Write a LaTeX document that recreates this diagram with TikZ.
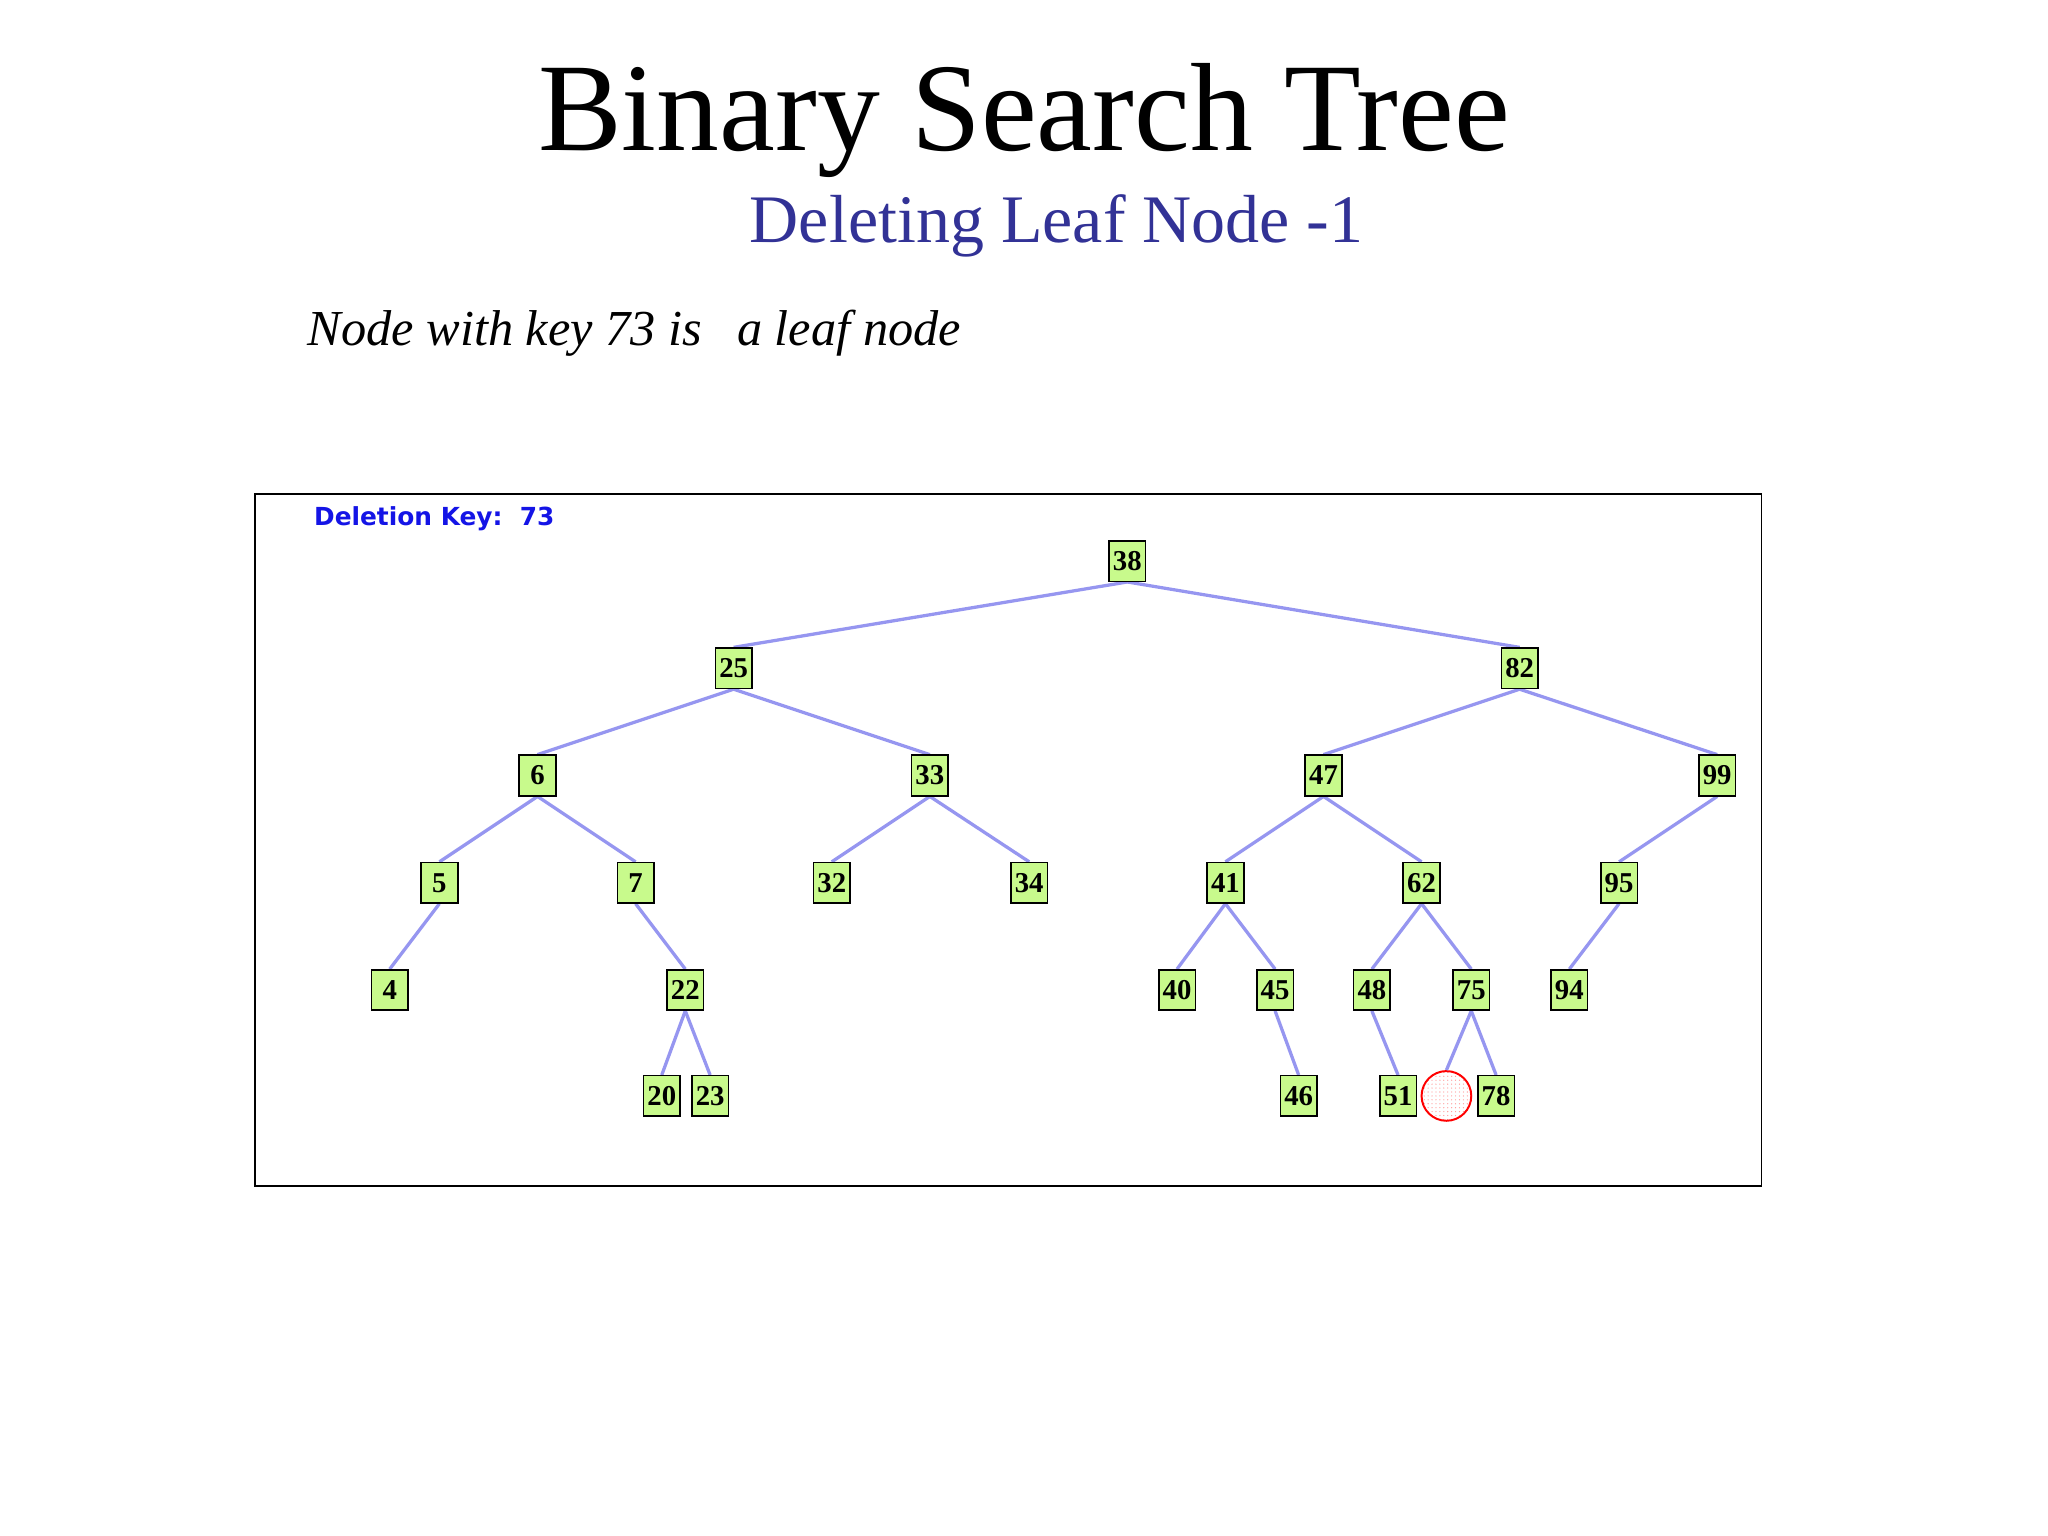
\documentclass[tikz,border=0pt]{standalone}
\usepackage{fontspec}
\usetikzlibrary{patterns}
\setmainfont{Liberation Serif}
\newfontfamily\sansf{DejaVu Sans}
\begin{document}
\begin{tikzpicture}[x=1pt,y=-1pt,
  kbox/.style={draw=black,line width=1.2pt,fill=kfill,minimum width=28pt,minimum height=31pt,inner sep=0pt,font=\fontsize{22}{22}\selectfont\bfseries,
   append after command={[draw=black,line width=2pt]([xshift=1pt,yshift=-1pt]\tikzlastnode.south west)--([xshift=1pt,yshift=-1pt]\tikzlastnode.south east)--([xshift=1pt]\tikzlastnode.north east)}},
  edge/.style={draw={rgb,255:red,150;green,150;blue,240},line width=2.5pt}]
\definecolor{kfill}{RGB}{200,250,140}
\useasboundingbox (0,0) rectangle (1566,1174);
\node (title) at (783,92) {\fontsize{96}{96}\selectfont Binary Search Tree};
\node[text={rgb,255:red,50;green,50;blue,150}] (sub) at (808,173) {\fontsize{52}{52}\selectfont Deleting Leaf Node -1};
\node[anchor=west,inner sep=0pt] (txt) at (235,255) {\fontsize{38.5}{38.5}\selectfont\itshape Node with key 73 is\hspace{0.7em}a leaf node};
\draw[line width=1.3pt] (195,378) rectangle (1347,907);
\node[anchor=west,inner sep=0pt,text={rgb,255:red,20;green,20;blue,230}] (dk) at (240,397) {\sansf\bfseries\fontsize{19}{19}\selectfont Deletion Key:\ \ 73};
\foreach \n/\x/\y in {38/862/429,25/561/511,82/1162/511,6/411/593,33/711/593,47/1012/593,99/1313/593,
 5/336/675,7/486/675,32/636/675,34/787/675,41/937/675,62/1087/675,95/1238/675,
 4/298/757,22/524/757,40/900/757,45/975/757,48/1049/757,75/1125/757,94/1200/757,
 20/506/838,23/543/838,46/993/838,51/1069/838,78/1144/838}
 \coordinate (c\n) at (\x,\y);
\node[circle,draw=red,line width=1.5pt,minimum size=38pt,inner sep=0pt,pattern=dots,pattern color=red!40] (gone) at (1106,838) {};
\foreach \a/\b in {38/25,38/82,25/6,25/33,82/47,82/99,6/5,6/7,33/32,33/34,47/41,47/62,99/95,
 5/4,7/22,41/40,41/45,62/48,62/75,95/94,22/20,22/23,45/46,48/51,75/78}
 \draw[edge] ([yshift=-16pt]c\a) -- ([yshift=16pt]c\b);
\draw[edge] ([yshift=-16pt]c75) -- (gone.north);
\foreach \n in {38,25,82,6,33,47,99,5,7,32,34,41,62,95,4,22,40,45,48,75,94,20,23,46,51,78}
 \node[kbox] (n\n) at (c\n) {\n};
\end{tikzpicture}
\end{document}
